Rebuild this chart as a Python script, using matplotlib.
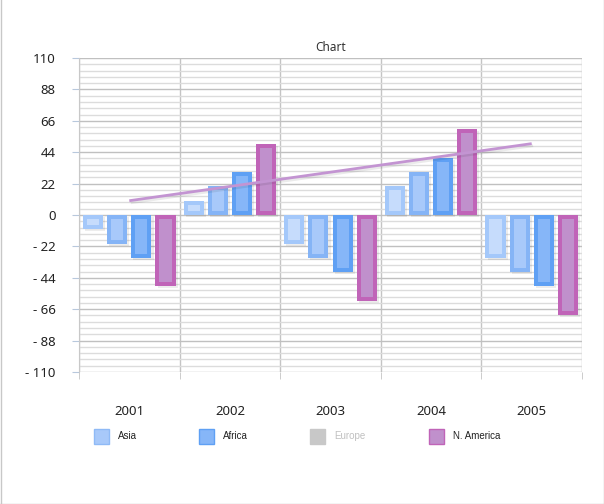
import numpy as np
import matplotlib.pyplot as plt
import matplotlib.patheffects as pe
from matplotlib.patches import Rectangle
from matplotlib.lines import Line2D

years = ['2001', '2002', '2003', '2004', '2005']
s1 = [-10, 10, -20, 20, -30]
s2 = [-20, 20, -30, 30, -40]
s3 = [-30, 30, -40, 40, -50]
s4 = [-50, 50, -60, 60, -70]
trend = [10, 20, 30, 40, 50]
yticks = [110, 88, 66, 44, 22, 0, -22, -44, -66, -88, -110]
legend_names = ['Asia', 'Africa', 'Europe', 'N. America']

plt.rcParams['font.family'] = ['Noto Sans', 'DejaVu Sans']

fig = plt.figure(figsize=(6.04, 5.04), dpi=100)
ax = fig.add_axes([79/604, 1-372/504, 503/604, 314/504])

x = np.arange(len(years))
ax.set_xlim(-0.5, 4.5)
ax.set_ylim(-110, 110)

# grid
ax.set_yticks(np.arange(-110, 110.1, 4.4), minor=True)
ax.set_yticks(yticks, [str(v) if v >= 0 else '- ' + str(-v) for v in yticks])
ax.grid(axis='y', which='minor', color='#dcdcdc', lw=1)
ax.grid(axis='y', which='major', color='#c0c0c0', lw=1)
ax.set_xticks(np.arange(-0.5, 4.6, 1), minor=True)
ax.grid(axis='x', which='minor', color='#c4c4c4', lw=1)
ax.set_xticks(x, years)
ax.set_axisbelow(True)
for s in ax.spines.values():
    s.set_visible(False)
ax.spines['left'].set_visible(True)
ax.spines['left'].set_color('#c8c8c8')

ax.tick_params(axis='y', which='major', length=5, color='#b8c8dc', pad=12, labelsize=9.5, labelcolor='#222222')
ax.tick_params(axis='y', which='minor', length=0)
ax.tick_params(axis='x', which='major', length=0, pad=24, labelsize=9.5, labelcolor='#222222')
ax.tick_params(axis='x', which='minor', length=5, color='#c4c4c4')

series = [s1, s2, s3, s4]
edges = ['#a4c8fa', '#85b4f6', '#5fa0f4', '#c064b8']
fills = ['#c6dcfc', '#a8c9fa', '#86b6f8', '#c090cc']
offsets = [-0.36, -0.12, 0.12, 0.36]
w = 0.2
ix = 4 / 100.6
iy = 4 / (314 / 220)
shadow = [pe.SimplePatchShadow(offset=(1.5, -1.5), shadow_rgbFace='#000000', alpha=0.07), pe.Normal()]
for vals, ec, fc, off in zip(series, edges, fills, offsets):
    for xi, v in zip(x, vals):
        sg = np.sign(v)
        ax.bar(xi + off, v, width=w, color=ec, lw=0, path_effects=shadow, zorder=2)
        ax.bar(xi + off, v - 2 * sg * iy, bottom=sg * iy, width=w - 2 * ix, color=fc, lw=0, zorder=3)

ax.plot(x, trend, color='#c394d2', lw=2, solid_capstyle='butt', zorder=4,
        path_effects=[pe.SimpleLineShadow(offset=(1, -1.5), alpha=0.08), pe.Normal()])

ax.set_title('Chart', fontsize=8.5, color='#333333', pad=5)

# legend
leg_x = [94, 199, 310, 429]
leg_fc = ['#a8c9fa', '#86b6f8', '#c8c8c8', '#c090cc']
leg_ec = ['#8fbaf6', '#5fa0f4', '#c8c8c8', '#c064b8']
leg_tc = ['#222222', '#222222', '#c0c0c0', '#222222']
for lx, name, fc, ec, tc in zip(leg_x, legend_names, leg_fc, leg_ec, leg_tc):
    fig.patches.append(Rectangle((lx/604, 1-444/504), 15/604, 15/504, transform=fig.transFigure,
                                 facecolor=fc, edgecolor=ec, lw=1))
    fig.text((lx + 24)/604, 1-436/504, name, fontsize=7, color=tc, va='center', ha='left',
             family=['Liberation Sans', 'DejaVu Sans'])

# outer border
for xs, ys in [([0.5/604, 0.5/604], [0, 1]), ([603.5/604, 603.5/604], [0, 1]), ([0, 1], [0.5/504, 0.5/504])]:
    fig.add_artist(Line2D(xs, ys, transform=fig.transFigure, color='#c8c8c8', lw=1))

fig.savefig('out.png', dpi=100)
